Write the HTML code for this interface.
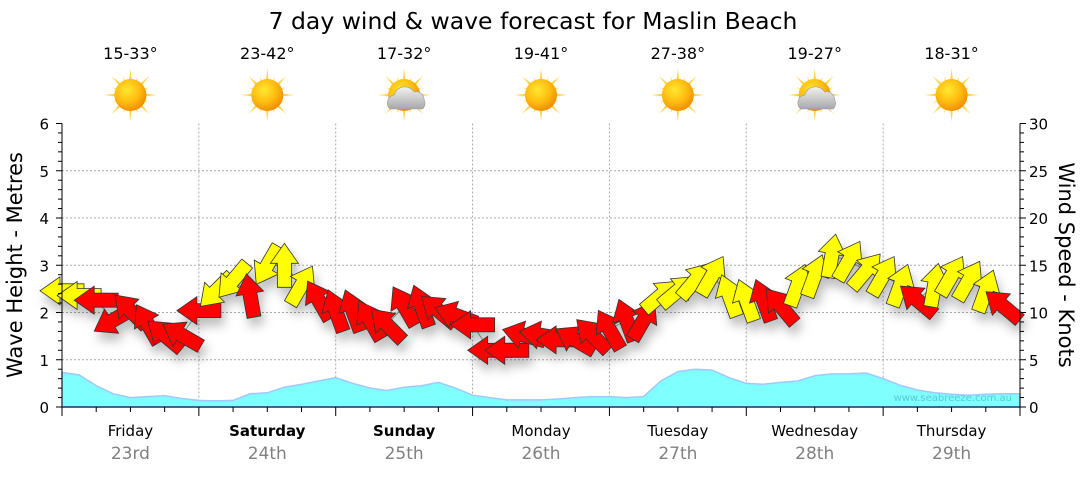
<!DOCTYPE html>
<html><head><meta charset="utf-8">
<style>
html,body{margin:0;padding:0;background:#fff;}
body{width:1080px;height:475px;overflow:hidden;font-family:"Liberation Sans","DejaVu Sans",sans-serif;}
svg text{font-family:"DejaVu Sans","Liberation Sans",sans-serif;}
</style></head>
<body>
<svg id="chart" width="1080" height="475" xmlns="http://www.w3.org/2000/svg">
<defs>
<radialGradient id="sunG" cx="40%" cy="35%" r="65%">
<stop offset="0" stop-color="#ffe830"/><stop offset="0.6" stop-color="#ffbb10"/><stop offset="1" stop-color="#f09000"/>
</radialGradient>
<linearGradient id="rayG" x1="0" y1="0" x2="1" y2="0"><stop offset="0" stop-color="#f5c000"/><stop offset="1" stop-color="#ffe070"/></linearGradient>
<linearGradient id="cloudG" x1="0" y1="0" x2="0" y2="1"><stop offset="0" stop-color="#f2f2f2"/><stop offset="1" stop-color="#a8a8a8"/></linearGradient>
<filter id="shadow" x="-50%" y="-50%" width="200%" height="200%">
<feDropShadow dx="3" dy="8" stdDeviation="5" flood-color="#000" flood-opacity="0.25"/>
</filter>
</defs>
<text x="533" y="29" font-size="23.5" text-anchor="middle" fill="#000">7 day wind &amp; wave forecast for Maslin Beach</text>
<g id="grid"></g>
<g id="wave"></g>
<g id="arrows" filter="url(#shadow)"></g>
<g id="axes"></g>
<g id="icons"></g>
<text x="1012" y="401" font-size="10" text-anchor="end" fill="#5cc8d8">www.seabreeze.com.au</text>
<text transform="translate(22,265) rotate(-90)" font-size="21" text-anchor="middle" fill="#000">Wave Height - Metres</text>
<text transform="translate(1059,265) rotate(90)" font-size="21" text-anchor="middle" fill="#000">Wind Speed - Knots</text>
</svg>
<script>
const days = ["Friday","Saturday","Sunday","Monday","Tuesday","Wednesday","Thursday"];
const dates = ["23rd","24th","25th","26th","27th","28th","29th"];
const boldDays = [false,true,true,false,false,false,false];
const temps = ["15-33°","23-42°","17-32°","19-41°","27-38°","19-27°","18-31°"];
const cloudy = [false,false,true,false,false,true,false];
const waveTicks = [0,1,2,3,4,5,6];
const windTicks = [0,5,10,15,20,25,30];
// 3-hourly wind speed (knots)
const windSpeed = [12.3,11.8,11.3,9.2,10.2,8.8,7.6,7.6,
 10.2,12.3,13.4,11.8,15,15,12.9,11.3,
 10.2,10.2,9.2,8.7,10.7,10.7,10.2,9.7,
 8.7,6.0,6.0,7.6,7.6,7.1,7.1,7.6,
 8.2,9.2,9.2,11.8,12.3,13.4,13.9,11.8,
 11.3,11.3,10.7,12.9,13.9,16.0,15.5,14.4,
 13.9,12.9,11.3,12.9,13.9,13.4,12.3,10.7];
// direction the arrow points (degrees, 0 = right, clockwise)
const windDir = [180,180,180,150,-135,-120,-140,-150,
 180,135,130,-100,120,-90,-60,-120,
 -110,-110,-120,-135,-120,-110,-140,-160,
 180,180,180,-165,-170,180,-150,-135,
 -120,-110,-60,-40,-40,-50,-60,-110,
 -110,-110,-130,-70,-70,-80,-60,-50,
 -60,-70,-140,-80,-60,-60,-70,-140];
const windStrong = [0,0,1,1,1,1,1,1, 1,0,0,1,0,0,0,1, 1,1,1,1,1,1,1,1, 1,1,1,1,1,1,1,1, 1,1,1,0,0,0,0,0, 0,1,1,0,0,0,0,0, 0,0,1,0,0,0,0,1];
// 3-hourly wave height (metres)
const waveHeight = [0.73,0.68,0.45,0.28,0.2,0.22,0.24,0.18,0.14,0.13,0.14,0.28,0.3,0.42,0.48,0.55,
 0.62,0.5,0.4,0.35,0.42,0.45,0.52,0.4,0.25,0.2,0.15,0.15,0.15,0.17,0.2,0.22,
 0.22,0.2,0.22,0.55,0.75,0.8,0.78,0.62,0.5,0.48,0.52,0.55,0.66,0.7,0.7,0.72,
 0.6,0.46,0.36,0.3,0.27,0.25,0.27,0.28,0.28];

const NS="http://www.w3.org/2000/svg";
const X0=62,X1=1020,Y0=407,YT=123.5;
const dayW=(X1-X0)/7;
const xAt=i=>X0+i*dayW/8;
const yM=m=>Y0-(Y0-YT)*m/6;
const yK=k=>Y0-(Y0-YT)*k/30;
function el(t,a,p){const e=document.createElementNS(NS,t);for(const k in a)e.setAttribute(k,a[k]);p.appendChild(e);return e;}
const grid=document.getElementById('grid'),axes=document.getElementById('axes'),wave=document.getElementById('wave'),arrows=document.getElementById('arrows'),icons=document.getElementById('icons');

waveTicks.forEach(v=>{if(v>0&&v<6){const g=el('line',{x1:X0,x2:X1,y1:yM(v),y2:yM(v),stroke:'#aaa','stroke-dasharray':'2,2','stroke-width':1},grid);

}});
for(let d=1;d<7;d++){const g=el('line',{x1:X0+d*dayW,x2:X0+d*dayW,y1:YT,y2:Y0,stroke:'#aaa','stroke-dasharray':'2,2'},grid);

}

let d='M'+X0+','+Y0;
waveHeight.forEach((v,i)=>{d+=' L'+xAt(i).toFixed(1)+','+yM(v).toFixed(1);});
d+=' L'+X1+','+Y0+' Z';
const wa=el('path',{d:d,fill:'#80ffff',stroke:'#a0c8ff','stroke-width':1.5},wave);



let ld='';windSpeed.forEach((v,i)=>{ld+=(i?' L':'M')+xAt(i).toFixed(1)+','+yK(v).toFixed(1);});
const wl=el('path',{d:ld,fill:'none',stroke:'#999','stroke-width':1},wave);



windSpeed.forEach((v,i)=>{
 const a=el('polygon',{points:'-22,-7 2,-7 2,-14 22,0 2,14 2,7 -22,7',
  transform:'translate('+xAt(i).toFixed(1)+','+yK(v).toFixed(1)+') rotate('+windDir[i]+')',
  fill:windStrong[i]?'#ff0000':'#ffff00',stroke:'#333','stroke-width':0.8},arrows);
 
 
});

el('line',{x1:X0,x2:X0,y1:YT,y2:Y0,stroke:'#000'},axes);
el('line',{x1:X1,x2:X1,y1:YT,y2:Y0,stroke:'#000'},axes);
el('line',{x1:X0,x2:X1,y1:Y0,y2:Y0,stroke:'#1a3a6a','stroke-width':1.5},axes);
for(let k=0;k<=30;k++){const y=yK(k);const big=k%5==0;
 el('line',{x1:X0-(big?6:4),x2:X0,y1:y,y2:y,stroke:'#000'},axes);
 el('line',{x1:X1,x2:X1+(big?6:4),y1:y,y2:y,stroke:'#000'},axes);}
waveTicks.forEach(v=>{const t=el('text',{x:49,y:yM(v)+6,'font-size':15,'text-anchor':'end'},axes);t.textContent=v;

});
windTicks.forEach(v=>{const t=el('text',{x:1029,y:yK(v)+6,'font-size':15},axes);t.textContent=v;

});
for(let i=0;i<=28;i++){const x=X0+i*dayW/4;el('line',{x1:x,x2:x,y1:Y0,y2:Y0+(i%4==0?9:5),stroke:'#000'},axes);}
days.forEach((n,i)=>{const cx=X0+(i+0.5)*dayW;
 const t=el('text',{x:cx,y:436,'font-size':15,'text-anchor':'middle','font-weight':boldDays[i]?'bold':'normal'},axes);t.textContent=n;
 
 
 const t2=el('text',{x:cx,y:459,'font-size':17,'text-anchor':'middle',fill:'#808080'},axes);t2.textContent=dates[i];
 
 
 const t3=el('text',{x:cx,y:59,'font-size':16,'text-anchor':'middle'},icons);t3.textContent=temps[i];
 
 
 const g=el('g',{transform:'translate('+cx+',95)'},icons);
 
 
 for(let r=0;r<16;r++){const L=r%2?20:27;
  el('polygon',{points:'0,-3 '+L+',0 0,3',fill:'url(#rayG)',transform:'rotate('+(r*22.5)+')'},g);}
 el('circle',{r:16,fill:'url(#sunG)'},g);
 if(cloudy[i]){el('path',{d:'M-14,14 a8,8 0 0 1 4,-14 a11,11 0 0 1 20,-3 a8,8 0 0 1 10,8 a7,7 0 0 1 -2,9 Z',fill:'url(#cloudG)',stroke:'#999','stroke-width':0.6},g);}
});
</script>
</body></html>
